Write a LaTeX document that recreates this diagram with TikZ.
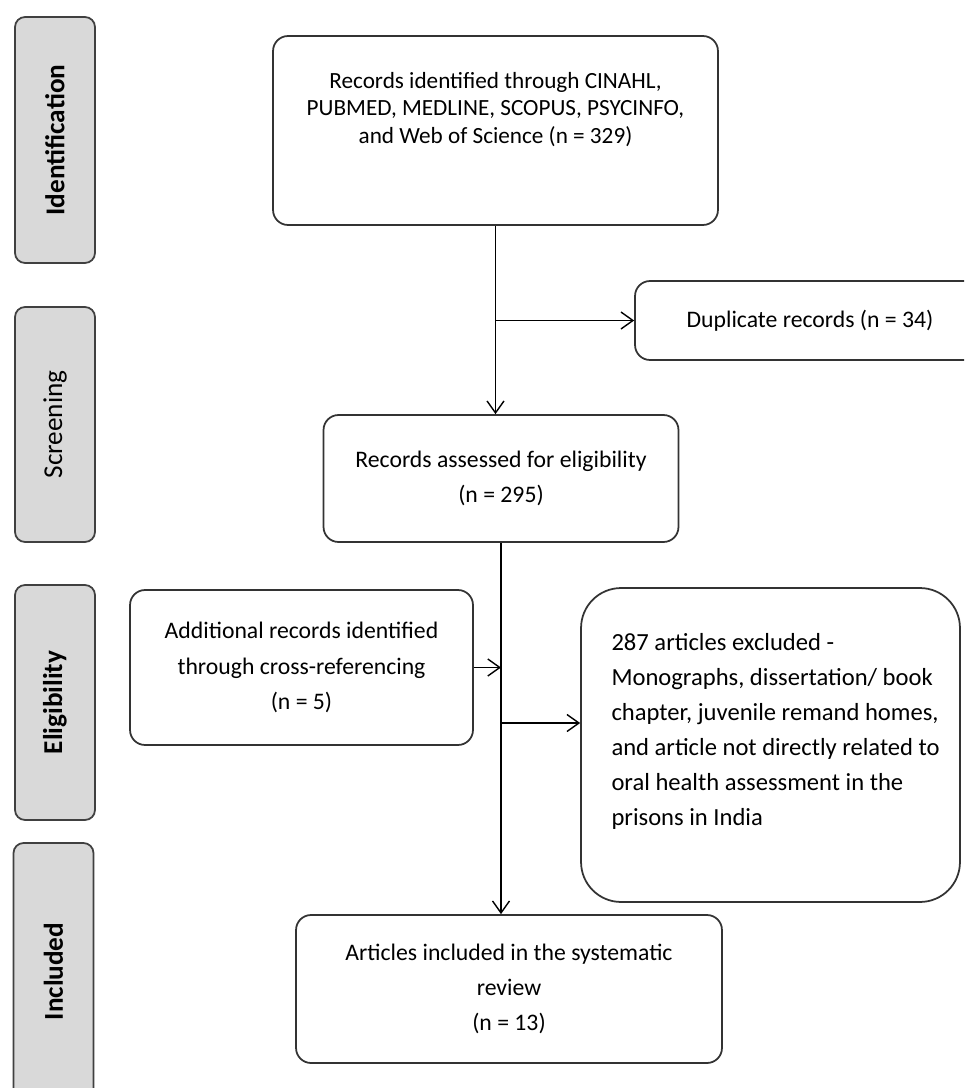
\documentclass[tikz,border=0pt]{standalone}
\usepackage{fontspec}
\setmainfont{Carlito}
\usetikzlibrary{positioning,arrows.meta}

\tikzset{
  stage/.style={draw=black!75, fill=black!15, rounded corners=0.2cm, line width=1pt,
    minimum width=1.6cm, inner sep=0pt, font=\fontsize{15.5}{18}\selectfont},
  box/.style={draw=black!80, rounded corners=0.3cm, line width=1pt, align=center,
    inner sep=0pt, font=\fontsize{13.5}{20}\selectfont},
  boxtxt/.style={inner sep=0pt, font=\fontsize{13.5}{20}\selectfont},
  arr/.style={-{Straight Barb[length=2.4mm,width=3.4mm]}, line width=0.8pt},
}

\begin{document}
\begin{tikzpicture}[x=0.02cm,y=-0.02cm]
	\clip (0,0) rectangle (964,1088);
	\fill[white] (0,0) rectangle (964,1088);
	
	% stages on the left
	\node[stage, minimum height=4.92cm] (sident) at (55,140) {\rotatebox{90}{\bfseries Identification}};
	\node[stage, minimum height=4.70cm] (sscreen) at (55,424.5) {\rotatebox{90}{Screening}};
	\node[stage, minimum height=4.70cm] (selig) at (55,702.5) {\rotatebox{90}{\bfseries Eligibility}};
	\node[stage, minimum height=5.14cm] (sincl) at (53.5,971.5) {\rotatebox{90}{\bfseries Included}};
	
	% flow boxes
	\node[box, minimum width=8.9cm, minimum height=3.78cm] (ident) at (495.5,130.5) {};
	\node[boxtxt, align=center, font=\fontsize{13.2}{15.5}\selectfont, below=0.74cm of ident.north] (identtxt)
		{Records identified through CINAHL,\\ PUBMED, MEDLINE, SCOPUS, PSYCINFO,\\ and Web of Science (n = 329)};
	
	\node[box, minimum width=7.0cm, minimum height=1.58cm] (dup) at (810,320.5) {Duplicate records (n = 34)};
	
	\node[box, minimum width=7.1cm, minimum height=2.54cm] (assess) at (501,478.5)
		{Records assessed for eligibility\\ (n = 295)};
	
	\node[box, minimum width=6.86cm, minimum height=3.1cm] (addl) at (301.5,667.5)
		{Additional records identified\\ through cross-referencing\\ (n = 5)};
	
	\node[box, rounded corners=0.8cm, minimum width=7.58cm, minimum height=6.28cm] (excl) at (770.5,745) {};
	\node[boxtxt, align=left, font=\fontsize{14}{19.9}\selectfont, below right=0.92cm and 0.62cm of excl.north west] (excltxt)
		{287 articles excluded -\\ Monographs, dissertation/ book\\ chapter, juvenile remand homes,\\
		 and article not directly related to\\ oral health assessment in the\\ prisons in India};
	
	\node[box, minimum width=8.52cm, minimum height=2.96cm] (incl) at (509,989)
		{Articles included in the systematic\\ review\\ (n = 13)};
	
	% connectors
	\coordinate (exclin) at ([yshift=0.44cm]excl.west);
	\draw[arr] (ident.south) -- (ident.south |- assess.north);
	\draw[arr] (ident.south |- dup.west) -- (dup.west);
	\draw[arr] (assess.south) -- (assess.south |- incl.north);
	\draw[arr] (addl.east) -- (assess.south |- addl.east);
	\draw[arr] (assess.south |- exclin) -- (exclin);
\end{tikzpicture}
\end{document}
